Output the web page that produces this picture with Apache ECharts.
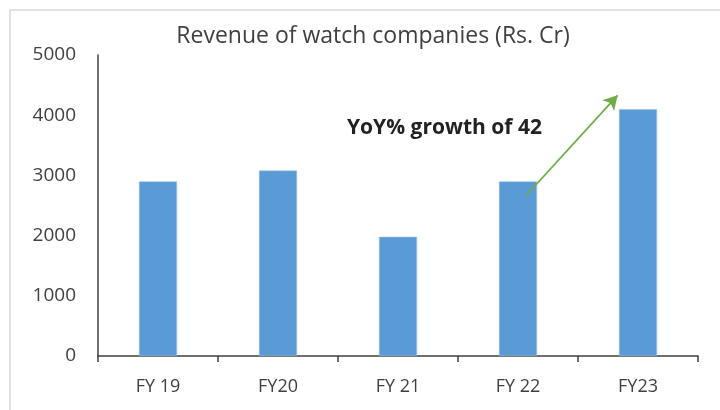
<!DOCTYPE html>
<html>
<head>
<meta charset="utf-8">
<script src="https://cdn.jsdelivr.net/npm/echarts@6/dist/echarts.min.js"></script>
<style>
  html, body { margin: 0; padding: 0; background: #fff; }
  #chart { width: 720px; height: 410px; }
</style>
</head>
<body>
<div id="chart"></div>
<script>
// data
const categories = ['FY 19', 'FY20', 'FY 21', 'FY 22', 'FY23'];
const revenue = [2900, 3080, 1980, 2900, 4100];
const yTicks = [0, 1000, 2000, 3000, 4000, 5000];
// growth arrow: [category position, value] start and end
const arrowFrom = [3.07, 2670];
const arrowTo = [3.83, 4330];
const noteText = 'YoY% growth of 42';

const chart = echarts.init(document.getElementById('chart'));

const option = {
  backgroundColor: '#fff',
  animation: false,
  title: [
    {
      text: 'Revenue of watch companies (Rs. Cr)',
      left: 368,
      top: 20,
      textAlign: 'center',
      textStyle: { fontFamily: 'Open Sans', fontSize: 23, fontWeight: 'normal', color: '#404040' }
    },
    {
      text: noteText,
      left: 342,
      top: 113,
      textStyle: { fontFamily: 'Open Sans', fontSize: 21, fontWeight: 'bold', color: '#222' }
    }
  ],
  // thin frame around the picture, as in the source screenshot
  graphic: [
    {
      type: 'rect',
      shape: { x: 10, y: 10, width: 720, height: 420 },
      style: { fill: 'none', stroke: '#d9d9d9', lineWidth: 1.5 },
      z: -1
    }
  ],
  grid: { left: 98, right: 22, top: 55, bottom: 54 },
  xAxis: [
    {
      type: 'category',
      data: categories,
      axisLine: { lineStyle: { color: '#404040', width: 1.5 } },
      axisTick: { show: true, length: 6, lineStyle: { color: '#404040', width: 1.5 } },
      axisLabel: { fontFamily: 'Open Sans', fontSize: 18, color: '#404040', margin: 22 }
    },
    {
      // hidden helper axis so the arrow can sit between category centres
      type: 'value',
      min: -0.5,
      max: 4.5,
      show: false
    }
  ],
  yAxis: {
    type: 'value',
    min: yTicks[0],
    max: yTicks[yTicks.length - 1],
    interval: 1000,
    axisLine: { show: true, onZero: false, lineStyle: { color: '#404040', width: 1.5 } },
    axisTick: { show: false },
    splitLine: { show: false },
    axisLabel: {
      fontFamily: 'Open Sans',
      fontSize: 19,
      color: '#404040',
      margin: 22,
      formatter: v => String(v)
    }
  },
  series: [
    {
      type: 'bar',
      data: revenue,
      barWidth: 38,
      itemStyle: { color: '#5B9BD5', borderColor: '#9DC3E6', borderWidth: 0.5 }
    },
    {
      type: 'line',
      xAxisIndex: 1,
      data: [],
      markLine: {
        silent: true,
        symbol: ['none', 'arrow'],
        symbolSize: [12, 14],
        label: { show: false },
        lineStyle: { color: '#70AD47', width: 1.8, type: 'solid' },
        data: [[{ coord: arrowFrom }, { coord: arrowTo }]]
      }
    }
  ]
};

chart.setOption(option);
</script>
</body>
</html>
